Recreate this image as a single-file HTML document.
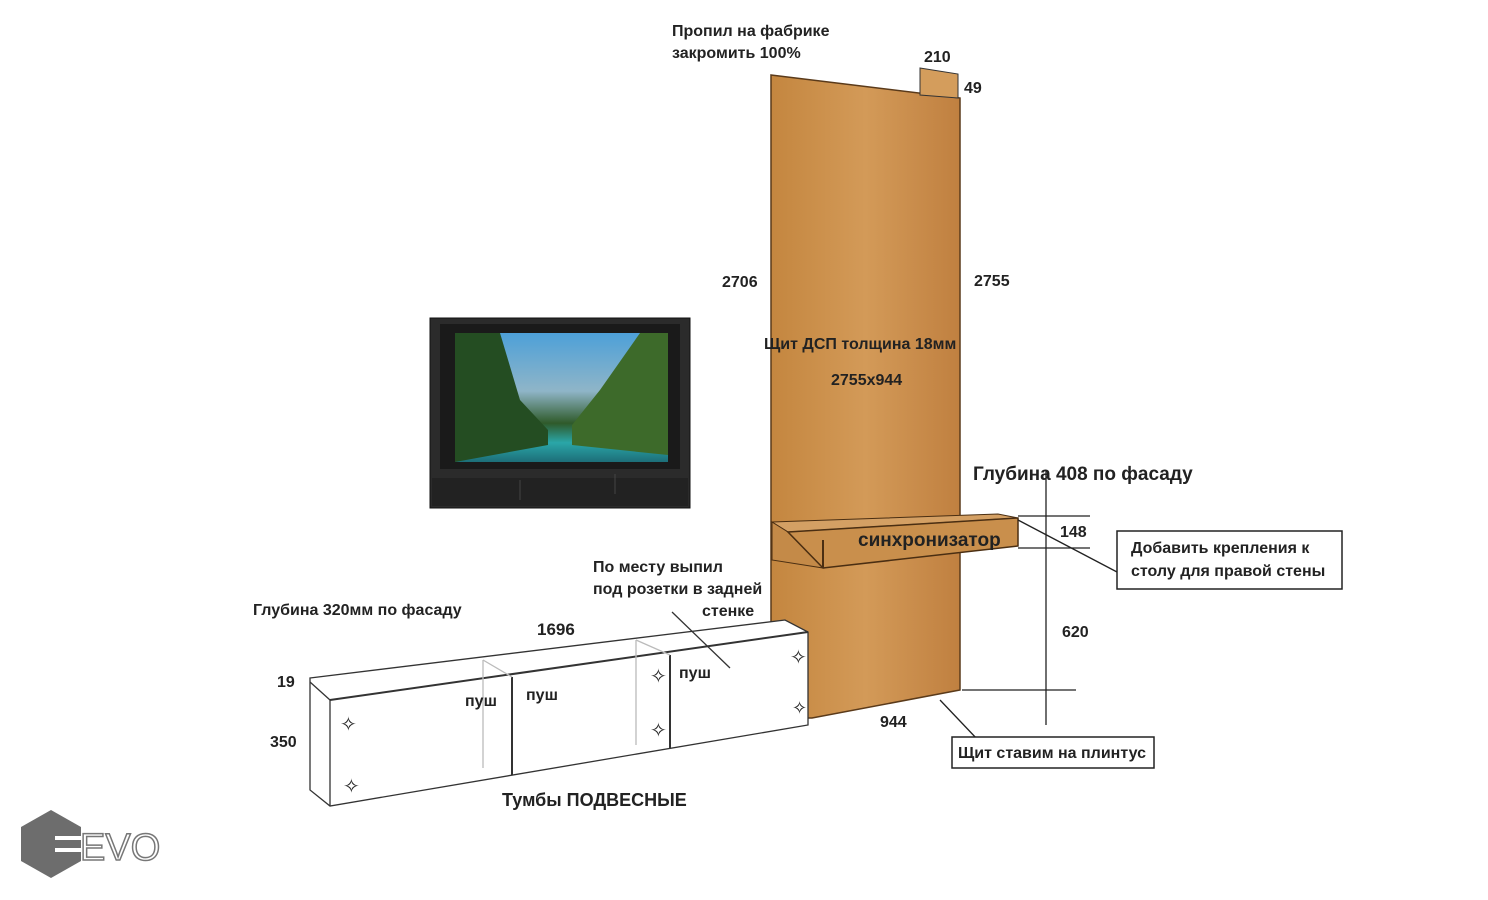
<!DOCTYPE html>
<html><head><meta charset="utf-8"><style>
html,body{margin:0;padding:0;background:#fff;width:1488px;height:900px;overflow:hidden}
svg text{font-family:"Liberation Sans",sans-serif;font-weight:bold;fill:#222;font-size:16px}
</style></head><body>
<svg width="1488" height="900" viewBox="0 0 1488 900">
<defs>
<linearGradient id="wood" x1="0" x2="1"><stop offset="0" stop-color="#c4863f"/><stop offset="0.5" stop-color="#d39a58"/><stop offset="1" stop-color="#c08040"/></linearGradient>
<linearGradient id="scr" x1="0" y1="0" x2="0" y2="1"><stop offset="0" stop-color="#4da0d8"/><stop offset="0.45" stop-color="#8fb5c8"/><stop offset="0.7" stop-color="#2f5a2a"/><stop offset="0.85" stop-color="#2aa6a8"/><stop offset="1" stop-color="#1d6e78"/></linearGradient>
</defs>
<polygon points="771,75 960,98 960,690 812,718 771,718" fill="url(#wood)" stroke="#5a3a1a" stroke-width="1.5"/>
<polygon points="920,68 958,74 958,98 920,95" fill="#d49d5c" stroke="#333"/>
<polygon points="772,522 998,514 1018,518 788,532" fill="#d4a064" stroke="#4a2e12"/>
<polygon points="772,522 788,532 823,568 772,560" fill="#c48a48" stroke="#4a2e12"/>
<polygon points="788,532 1018,518 1018,546 823,568" fill="#c98f4c" stroke="#4a2e12" stroke-width="1.5"/>
<line x1="823" y1="540" x2="823" y2="568" stroke="#4a2e12" stroke-width="2"/>
<rect x="430" y="318" width="260" height="190" fill="#2b2b2b" stroke="#111"/>
<rect x="440" y="324" width="240" height="145" fill="#1a1a1a"/>
<rect x="455" y="333" width="213" height="129" fill="url(#scr)"/>
<polygon points="455,333 500,333 520,400 548,430 548,445 455,462" fill="#244d22"/>
<polygon points="668,333 640,333 600,390 572,425 572,445 668,455" fill="#3d6a2a"/>
<rect x="432" y="478" width="256" height="28" fill="#222"/>
<line x1="520" y1="480" x2="520" y2="500" stroke="#444"/><line x1="615" y1="474" x2="615" y2="494" stroke="#444"/>
<g fill="none" stroke="#333" stroke-width="1.3">
<polygon points="310,678 785,620 808,632 808,725 330,806 310,790" fill="#fff"/>
<line x1="310" y1="682" x2="330" y2="700"/>
<line x1="330" y1="700" x2="808" y2="632" stroke-width="2"/>
<line x1="330" y1="700" x2="330" y2="806"/>
<line x1="512" y1="677" x2="512" y2="775" stroke-width="2"/>
<line x1="670" y1="655" x2="670" y2="748" stroke-width="2"/>
<line x1="483" y1="660" x2="483" y2="768" stroke="#bbb"/>
<line x1="636" y1="640" x2="636" y2="745" stroke="#bbb"/>
<line x1="483" y1="660" x2="512" y2="677" stroke="#bbb"/>
<line x1="636" y1="640" x2="670" y2="655" stroke="#bbb"/>
<line x1="672" y1="612" x2="730" y2="668"/>
</g>
<g fill="#333" font-family="DejaVu Sans">
<text x="340" y="731" style="font-size:20px;font-weight:normal">✧</text><text x="343" y="793" style="font-size:20px;font-weight:normal">✧</text>
<text x="650" y="683" style="font-size:20px;font-weight:normal">✧</text><text x="650" y="737" style="font-size:20px;font-weight:normal">✧</text>
<text x="790" y="664" style="font-size:20px;font-weight:normal">✧</text><text x="792" y="714" style="font-size:18px;font-weight:normal">✧</text>
</g>
<g stroke="#222" stroke-width="1.3">
<line x1="1046" y1="470" x2="1046" y2="725"/>
<line x1="1018" y1="516" x2="1090" y2="516"/>
<line x1="1018" y1="548" x2="1090" y2="548"/>
<line x1="962" y1="690" x2="1076" y2="690"/>
<line x1="1018" y1="520" x2="1117" y2="572"/>
<line x1="940" y1="700" x2="978" y2="740"/>
</g>
<rect x="1117" y="531" width="225" height="58" fill="#fff" stroke="#222" stroke-width="1.5"/>
<rect x="952" y="737" width="202" height="31" fill="#fff" stroke="#222" stroke-width="1.5"/>
<text x="672" y="36">Пропил на фабрике</text>
<text x="672" y="58">закромить 100%</text>
<text x="924" y="62">210</text>
<text x="964" y="93">49</text>
<text x="722" y="287">2706</text>
<text x="974" y="286">2755</text>
<text x="764" y="349">Щит ДСП толщина 18мм</text>
<text x="831" y="385">2755х944</text>
<text x="973" y="480" style="font-size:19px">Глубина 408 по фасаду</text>
<text x="858" y="546" style="font-size:19px">синхронизатор</text>
<text x="1060" y="537">148</text>
<text x="1131" y="553">Добавить крепления к</text>
<text x="1131" y="576">столу для правой стены</text>
<text x="1062" y="637">620</text>
<text x="880" y="727">944</text>
<text x="958" y="758">Щит ставим на плинтус</text>
<text x="593" y="572">По месту выпил</text>
<text x="593" y="594">под розетки в задней</text>
<text x="702" y="616">стенке</text>
<text x="253" y="615">Глубина 320мм по фасаду</text>
<text x="537" y="635" style="font-size:17px">1696</text>
<text x="277" y="687">19</text>
<text x="270" y="747">350</text>
<text x="465" y="706">пуш</text>
<text x="526" y="700">пуш</text>
<text x="679" y="678">пуш</text>
<text x="502" y="806" style="font-size:18px">Тумбы ПОДВЕСНЫЕ</text>
<polygon points="51,810 81,827 81,861 51,878 21,861 21,827" fill="#6d6d6d"/>
<rect x="55" y="836" width="30" height="4" fill="#fff"/><rect x="55" y="848" width="30" height="4" fill="#fff"/>
<text x="80" y="860" style="font-size:38px;font-weight:normal;fill:none;stroke:#777;stroke-width:1.5">EVO</text>
</svg>
</body></html>
